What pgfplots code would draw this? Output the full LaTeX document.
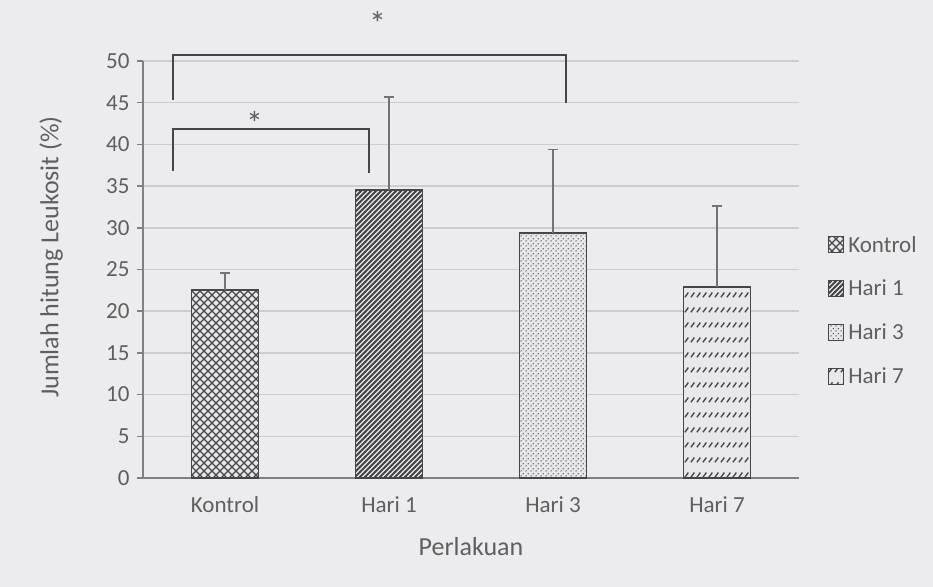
\documentclass[border=0pt]{standalone}
\usepackage{pgfplots}
\pgfplotsset{compat=1.18}
\usepackage{fontspec}
\setmainfont{Carlito}
\usetikzlibrary{patterns}
\definecolor{txt}{RGB}{95,95,95}
\definecolor{gridc}{RGB}{205,205,208}
\definecolor{bg}{RGB}{236,236,239}
\definecolor{dk}{RGB}{70,70,72}
\definecolor{barfill}{RGB}{232,232,234}

\pgfdeclarepatternformonly{diagcross}{\pgfqpoint{-1bp}{-1bp}}{\pgfqpoint{9bp}{9bp}}{\pgfqpoint{8bp}{8bp}}{%
  \pgfsetlinewidth{1.3bp}%
  \pgfpathmoveto{\pgfqpoint{0bp}{0bp}}\pgfpathlineto{\pgfqpoint{8bp}{8bp}}%
  \pgfpathmoveto{\pgfqpoint{0bp}{8bp}}\pgfpathlineto{\pgfqpoint{8bp}{0bp}}%
  \pgfusepath{stroke}}
\pgfdeclarepatternformonly{denseNE}{\pgfqpoint{-1bp}{-1bp}}{\pgfqpoint{6bp}{6bp}}{\pgfqpoint{5bp}{5bp}}{%
  \pgfsetlinewidth{1.8bp}%
  \pgfpathmoveto{\pgfqpoint{-0.5bp}{-0.5bp}}\pgfpathlineto{\pgfqpoint{5.5bp}{5.5bp}}%
  \pgfusepath{stroke}}
\pgfdeclarepatternformonly{finedots}{\pgfqpoint{0bp}{0bp}}{\pgfqpoint{5bp}{5bp}}{\pgfqpoint{5bp}{5bp}}{%
  \pgfpathcircle{\pgfqpoint{1.25bp}{1.25bp}}{0.85bp}%
  \pgfpathcircle{\pgfqpoint{3.75bp}{3.75bp}}{0.85bp}%
  \pgfusepath{fill}}
\pgfdeclarepatternformonly{dashdiag}{\pgfqpoint{0bp}{0bp}}{\pgfqpoint{6bp}{15bp}}{\pgfqpoint{6bp}{15bp}}{%
  \pgfsetlinewidth{1.5bp}%
  \pgfpathmoveto{\pgfqpoint{1bp}{5bp}}\pgfpathlineto{\pgfqpoint{5bp}{10bp}}%
  \pgfusepath{stroke}}

\pgfplotsset{
  mybar/.style={ybar, bar shift=0pt, draw=dk, line width=1.8bp, fill=barfill,
    postaction={pattern=#1, pattern color=dk},
    legend image code/.code={\draw[##1, line width=1.2bp] (0bp,-8bp) rectangle (15bp,8bp);}},
}

\begin{document}
\begin{tikzpicture}[x=1bp,y=1bp]
\fill[bg] (-143,-109) rectangle (790,478);
\begin{axis}[at={(0,0)}, anchor=south west, scale only axis,
  width=656bp, height=417bp,
  xmin=-0.5, xmax=3.5, ymin=0, ymax=50,
  ytick={0,5,...,50}, xtick={0,1,2,3},
  xticklabels={Kontrol,Hari 1,Hari 3,Hari 7},
  axis x line=bottom, axis y line=left,
  axis line style={-, line width=1.5bp, draw=gray},
  ymajorgrids, grid style={line width=1.5bp, draw=gridc},
  tick align=outside, major tick length=6bp,
  ytick style={line width=1.5bp, draw=gray}, xtick style={draw=none},
  /pgf/number format/assume math mode=true,
  ticklabel style={font=\fontsize{23bp}{26bp}\selectfont, text=txt},
  xticklabel style={yshift=-9bp},
  yticklabel style={xshift=-4bp},
  xlabel={Perlakuan}, ylabel={Jumlah hitung Leukosit (\%)},
  xlabel style={font=\fontsize{26bp}{30bp}\selectfont, text=txt, at={(axis description cs:0.5,-0.165)}, anchor=center},
  ylabel style={font=\fontsize{26bp}{30bp}\selectfont, text=txt, at={(axis description cs:-0.14,0.53)}, anchor=center},
  clip=false,
  bar width=67bp,
  legend style={at={(axis description cs:1.044,0.583)}, anchor=north west, draw=none, fill=none,
    font=\fontsize{23bp}{26bp}\selectfont, text=txt, row sep=24.5bp, column sep=3bp, inner sep=0pt,
    nodes={inner sep=1bp}},
  legend cell align=left,
]
\addplot[mybar=diagcross] coordinates {(0,22.5)};
\addlegendentry{Kontrol}
\addplot[mybar=denseNE] coordinates {(1,34.5)};
\addlegendentry{Hari 1}
\addplot[mybar=finedots] coordinates {(2,29.4)};
\addlegendentry{Hari 3}
\addplot[mybar=dashdiag] coordinates {(3,22.9)};
\addlegendentry{Hari 7}
% error bars
\addplot[forget plot, draw=none, mark=none,
  error bars/.cd, y dir=plus, y explicit,
  error bar style={line width=1.5bp, draw=gray!90!black, solid},
  error mark options={rotate=90, mark size=5bp, line width=1.5bp, draw=gray!90!black}]
  coordinates {(0,22.5) +- (0,2.1) (1,34.5) +- (0,11.2) (2,29.4) +- (0,10.0) (3,22.9) +- (0,9.7)};
% significance brackets
\addplot[forget plot, draw=dk, line width=2bp, sharp plot]
  coordinates {(-0.32,45.3) (-0.32,50.7) (2.08,50.7) (2.08,45.0)};
\addplot[forget plot, draw=dk, line width=2bp, sharp plot]
  coordinates {(-0.32,36.8) (-0.32,41.8) (0.88,41.8) (0.88,36.6)};
\node[text=txt, font=\fontsize{34bp}{36bp}\selectfont, inner sep=0pt] at (axis cs:0.93,54.5) {*};
\node[text=txt, font=\fontsize{34bp}{36bp}\selectfont, inner sep=0pt] at (axis cs:0.18,42.5) {*};
\end{axis}
\end{tikzpicture}
\end{document}
